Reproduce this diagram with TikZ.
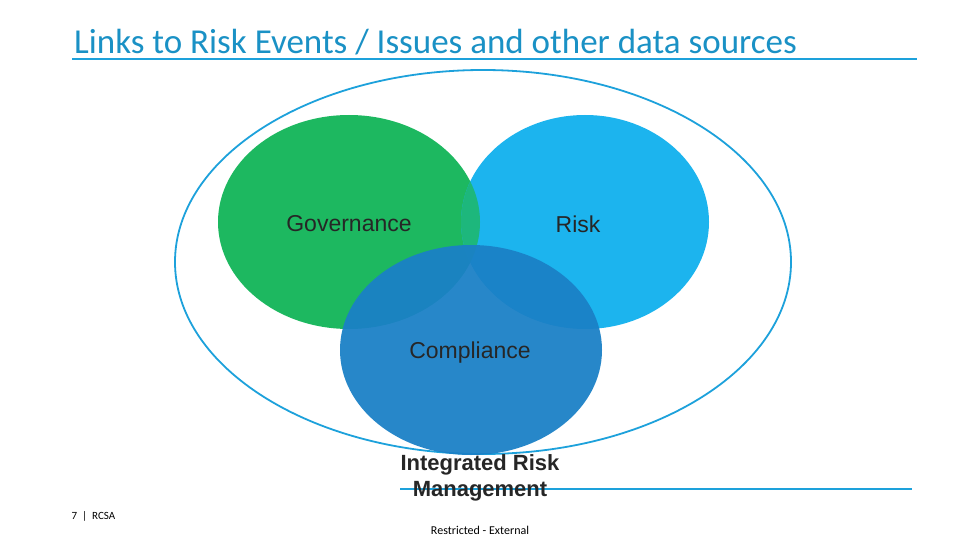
\documentclass[tikz,border=0pt]{standalone}
\usepackage{fontspec}
\setmainfont{Liberation Sans}
\newfontfamily\carlitofont{Carlito}
\definecolor{lineblue}{HTML}{1DA1DB}
\definecolor{gov}{HTML}{1DB860}
\definecolor{risk}{HTML}{1CB4EE}
\definecolor{comp}{HTML}{1A80C6}
\begin{document}
\begin{tikzpicture}[x=1pt,y=-1pt]
\tikzset{lbl/.style={font=\fontsize{23}{25}\selectfont, text=black!85}}
\useasboundingbox (0,0) rectangle (960,540);
\node[font=\carlitofont\fontsize{35}{38}\selectfont, text=lineblue!90!black, anchor=base west, inner sep=0] (title) at (74,53.5) {Links to Risk Events / Issues and other data sources};
\draw[lineblue, line width=1.5] (72,59) -- (917,59);
\draw[lineblue, line width=1.8] (483,262) ellipse [x radius=308, y radius=192];
\fill[gov] (349,222) ellipse [x radius=131, y radius=107];
\fill[risk] (585,222) ellipse [x radius=124, y radius=107];
\begin{scope}
\clip (349,222) ellipse [x radius=131, y radius=107];
\fill[gov!80!risk] (585,222) ellipse [x radius=124, y radius=107];
\end{scope}
\fill[comp, opacity=0.94] (471,350) ellipse [x radius=131, y radius=105];
\draw[lineblue, line width=1.5] (400,489) -- (912,489);
\node[lbl] (g) at (349,224) {Governance};
\node[lbl] (r) at (578,224) {Risk};
\node[lbl] (c) at (470,353) {Compliance};
\node[lbl, font=\bfseries\fontsize{22}{26}\selectfont, align=center] (irm) at (480,478) {Integrated Risk\\Management};
\node[font=\carlitofont\fontsize{11}{12}\selectfont, anchor=west] (pg) at (68,516) {7 \ \textbar\ \ RCSA};
\node[font=\carlitofont\fontsize{12}{12}\selectfont] (re) at (480,530) {Restricted - External};
\end{tikzpicture}
\end{document}
